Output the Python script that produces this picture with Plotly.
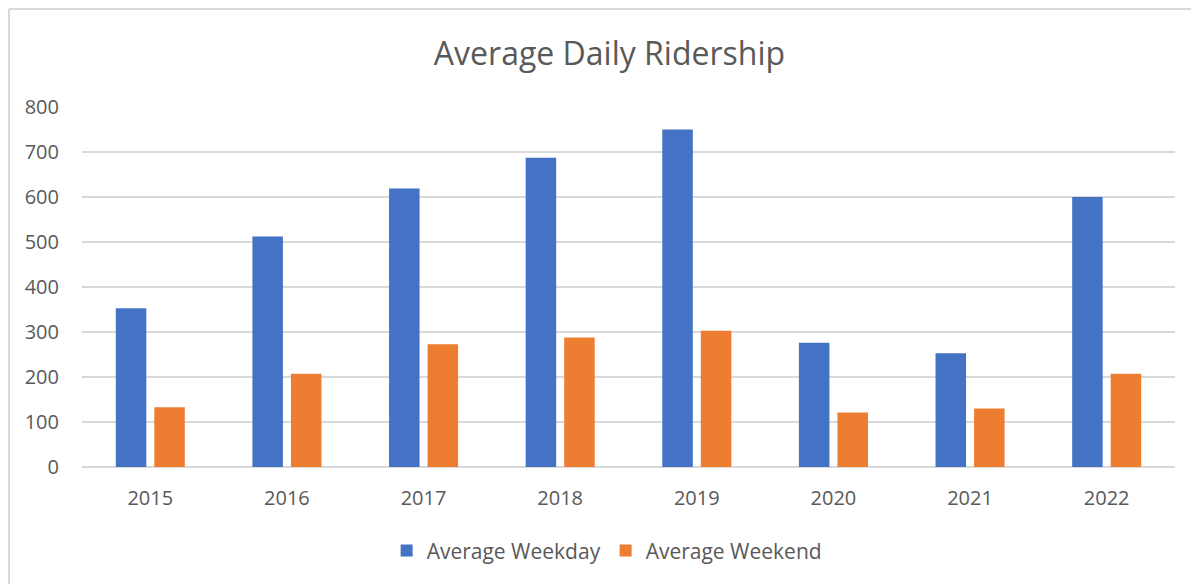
import plotly.graph_objects as go

years = ['2015', '2016', '2017', '2018', '2019', '2020', '2021', '2022']
weekday = [353, 512, 619, 687, 750, 276, 253, 600]
weekend = [133, 207, 273, 288, 303, 121, 130, 207]
y_ticks = [0, 100, 200, 300, 400, 500, 600, 700, 800]

font_name = 'Open Sans'
grey_text = '#595959'

fig = go.Figure()

fig.add_trace(go.Bar(
    x=years,
    y=weekday,
    name='Average Weekday',
    marker=dict(color='#4472c4', line=dict(width=0))
))

fig.add_trace(go.Bar(
    x=years,
    y=weekend,
    name='Average Weekend',
    marker=dict(color='#ed7d31', line=dict(width=0))
))

# рамка как у Excel-диаграммы (видны только левая и верхняя)
fig.add_shape(type='line', xref='paper', yref='paper',
              x0=-0.0668, x1=1.1, y0=1.272, y1=1.272,
              line=dict(color='#d9d9d9', width=2))
fig.add_shape(type='line', xref='paper', yref='paper',
              x0=-0.0668, x1=-0.0668, y0=1.272, y1=-0.4,
              line=dict(color='#d9d9d9', width=2))

# страница сдвигает график на 8px (отступ body), поэтому размеры меньше на 8
fig.update_layout(
    width=1191,
    height=576,
    margin=dict(l=74, r=24, t=99, b=117),
    paper_bgcolor='white',
    plot_bgcolor='white',
    barmode='group',
    bargap=0.436,
    bargroupgap=0.208,
    title=dict(
        text='Average Daily Ridership',
        x=0.505, xanchor='center',
        y=0.92, yanchor='middle',
        font=dict(family=font_name, size=32, color=grey_text)
    ),
    font=dict(family=font_name, size=20, color=grey_text),
    xaxis=dict(
        showgrid=False,
        showline=False,
        ticks='',
        ticklabelstandoff=17,
        tickfont=dict(family=font_name, size=20, color=grey_text)
    ),
    yaxis=dict(
        range=[0, 800],
        tickvals=y_ticks,
        showgrid=True,
        gridcolor='#d9d9d9',
        gridwidth=1.5,
        zeroline=True,
        zerolinecolor='#d9d9d9',
        zerolinewidth=1.5,
        showline=False,
        ticks='',
        ticklabelstandoff=22,
        tickfont=dict(family=font_name, size=20, color=grey_text)
    ),
    legend=dict(
        orientation='h',
        x=0.48, xanchor='center',
        y=-0.233, yanchor='middle',
        font=dict(family=font_name, size=21, color=grey_text),
        itemwidth=30
    ),
    showlegend=True
)

fig.write_html('out.html')
